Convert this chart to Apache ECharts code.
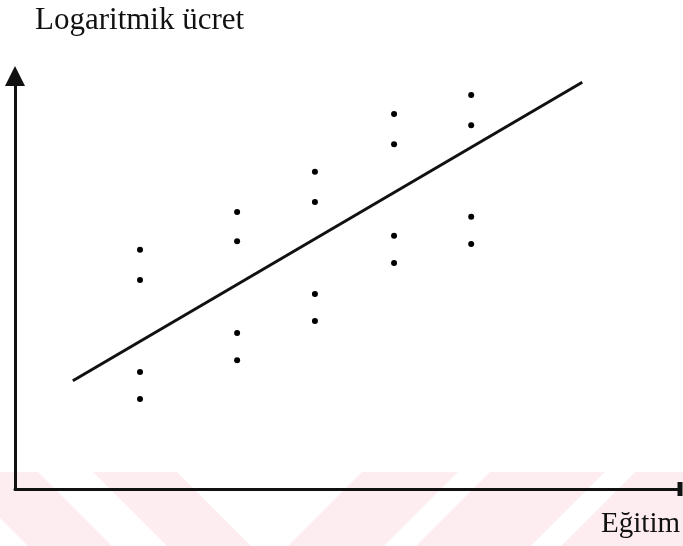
<!DOCTYPE html>
<html>
<head>
<meta charset="utf-8">
<title>Logaritmik ücret - Eğitim</title>
<script src="https://cdn.jsdelivr.net/npm/echarts@6/dist/echarts.min.js"></script>
<style>
  html, body { margin: 0; padding: 0; background: #fff; }
  #chart { width: 683px; height: 546px; }
</style>
</head>
<body>
<div id="chart"></div>
<script>
// egitim (x) of each group of points
var egitim = [1.88, 3.34, 4.51, 5.70, 6.86];
// logaritmik ucret, four points per group (top to bottom)
var ucret1 = [5.79, 6.71, 7.68, 9.08, 9.54];
var ucret2 = [5.06, 6.00, 6.95, 8.35, 8.81];
var ucret3 = [2.83, 3.78, 4.72, 6.13, 6.59];
var ucret4 = [2.18, 3.12, 4.07, 5.47, 5.93];
// regression line end points
var lineX = [0.87, 8.53];
var lineY = [2.62, 9.85];

var points = [];
egitim.forEach(function (x, i) {
  [ucret1, ucret2, ucret3, ucret4].forEach(function (arr) {
    points.push([x, arr[i]]);
  });
});
var lineData = lineX.map(function (x, i) { return [x, lineY[i]]; });

// pale pink diagonal stripes of the scan (decoration)
var pink = '#fdedf0';
function stripe(x1, x2, dir) {
  var d = 74 * dir;
  return {
    type: 'polygon', z: -10, silent: true,
    shape: { points: [[x1, 472], [x2, 472], [x2 + d, 546], [x1 + d, 546]] },
    style: { fill: pink }
  };
}

var chart = echarts.init(document.getElementById('chart'));
chart.setOption({
  animation: false,
  backgroundColor: '#fff',
  grid: { left: 15, right: 3, top: 76, bottom: 57 },
  xAxis: {
    type: 'value', min: 0, max: 10,
    axisLine: {
      onZero: false,
      symbol: ['none', 'rect'], symbolSize: [14, 5],
      lineStyle: { color: '#111', width: 3 }
    },
    axisTick: { show: false }, axisLabel: { show: false }, splitLine: { show: false }
  },
  yAxis: {
    type: 'value', min: 0, max: 10,
    axisLine: {
      show: true, onZero: false,
      symbol: ['none', 'triangle'], symbolSize: [20, 20],
      lineStyle: { color: '#111', width: 3 }
    },
    axisTick: { show: false }, axisLabel: { show: false }, splitLine: { show: false }
  },
  graphic: [
    stripe(-46, 38, 1), stripe(93, 177, 1),
    stripe(362, 458, -1), stripe(490, 605, -1), stripe(635, 760, -1),
    {
      type: 'text', left: 35, top: 5,
      style: { text: 'Logaritmik ücret', font: '31px "Liberation Serif"', fill: '#111' }
    },
    {
      type: 'text', right: 3, top: 510,
      style: { text: 'Eğitim', font: '29px "Liberation Serif"', fill: '#111' }
    }
  ],
  series: [
    {
      type: 'line', data: lineData, symbol: 'none',
      lineStyle: { color: '#111', width: 3 }, z: 3
    },
    {
      type: 'scatter', data: points, symbol: 'circle', symbolSize: 6,
      itemStyle: { color: '#000', opacity: 1 }
    }
  ]
});
</script>
</body>
</html>
